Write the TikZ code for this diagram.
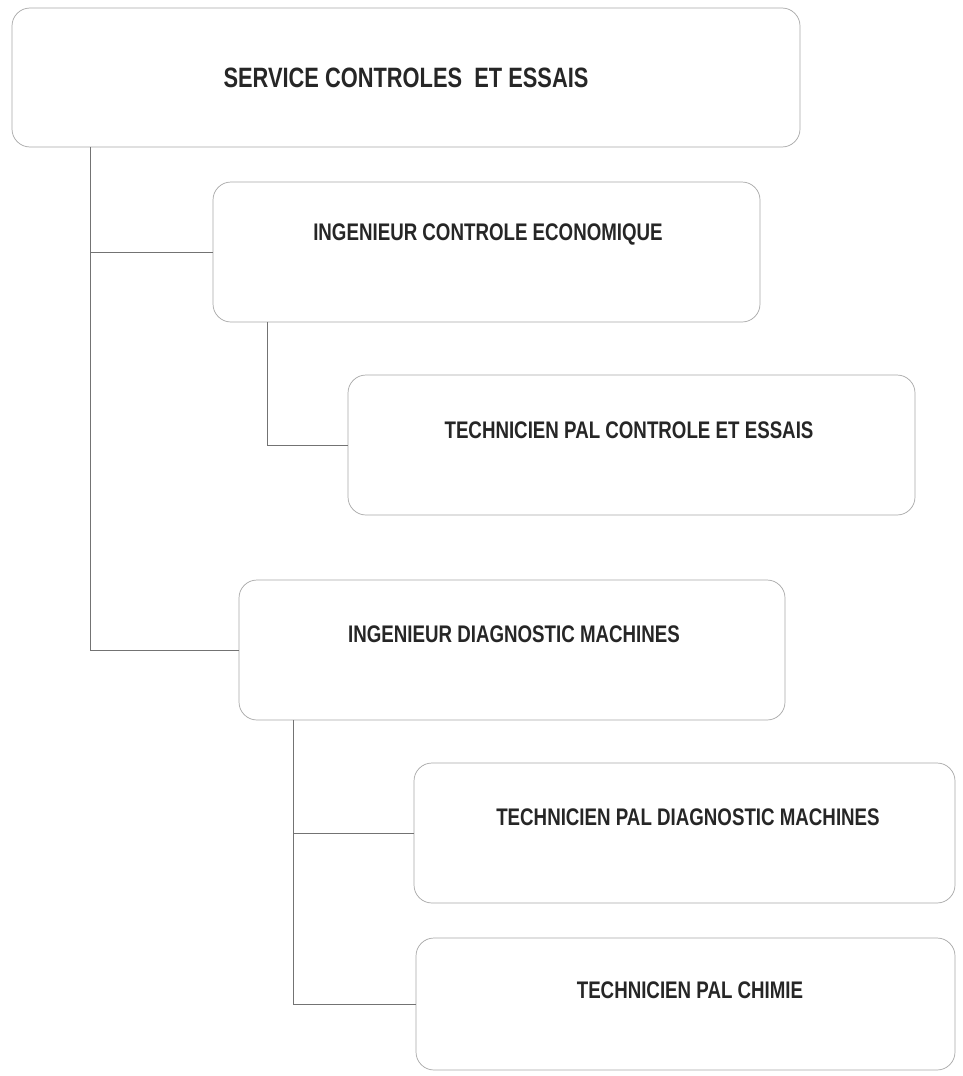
\documentclass[tikz,border=0pt]{standalone}
\usepackage{fontspec}
\setmainfont{Liberation Sans}[FakeStretch=0.78]
\usepackage{tikz}

\begin{document}
\begin{tikzpicture}[x=1pt,y=-1pt,
  box/.style={draw=black!35,line width=0.7pt,rounded corners=18pt,inner sep=0pt},
  lbl/.style={font=\bfseries\fontsize{24}{26}\selectfont,text=black!85,inner sep=0pt},
  link/.style={draw=black!55,line width=0.7pt}]
\useasboundingbox (0,0) rectangle (962,1076);
% boxes
\node[box,minimum width=788pt,minimum height=139pt] (svc) at (406,77.5) {};
\node[box,minimum width=547pt,minimum height=140pt] (ice) at (486.5,252) {};
\node[box,minimum width=567pt,minimum height=140pt] (tce) at (631.5,445) {};
\node[box,minimum width=546pt,minimum height=140pt] (idm) at (512,650) {};
\node[box,minimum width=541pt,minimum height=140pt] (tdm) at (684.5,833) {};
\node[box,minimum width=539pt,minimum height=132pt] (tch) at (685.5,1004) {};
% titles
\node[lbl,font=\bfseries\fontsize{28}{30}\selectfont] (svc-t) at (406,78) {SERVICE CONTROLES\ \ ET ESSAIS};
\node[lbl] (ice-t) at (488,234) {INGENIEUR CONTROLE ECONOMIQUE};
\node[lbl] (tce-t) at (629,430) {TECHNICIEN PAL CONTROLE ET ESSAIS};
\node[lbl] (idm-t) at (514,634) {INGENIEUR DIAGNOSTIC MACHINES};
\node[lbl] (tdm-t) at (688,817) {TECHNICIEN PAL DIAGNOSTIC MACHINES};
\node[lbl] (tch-t) at (690,990) {TECHNICIEN PAL CHIMIE};
% links
\draw[link] ([xshift=79pt]svc.south west) |- (ice.west);
\draw[link] ([xshift=79pt]svc.south west) |- (idm.west);
\draw[link] ([xshift=55pt]ice.south west) |- (tce.west);
\draw[link] ([xshift=55pt]idm.south west) |- (tdm.west);
\draw[link] ([xshift=55pt]idm.south west) |- (tch.west);
\end{tikzpicture}
\end{document}
